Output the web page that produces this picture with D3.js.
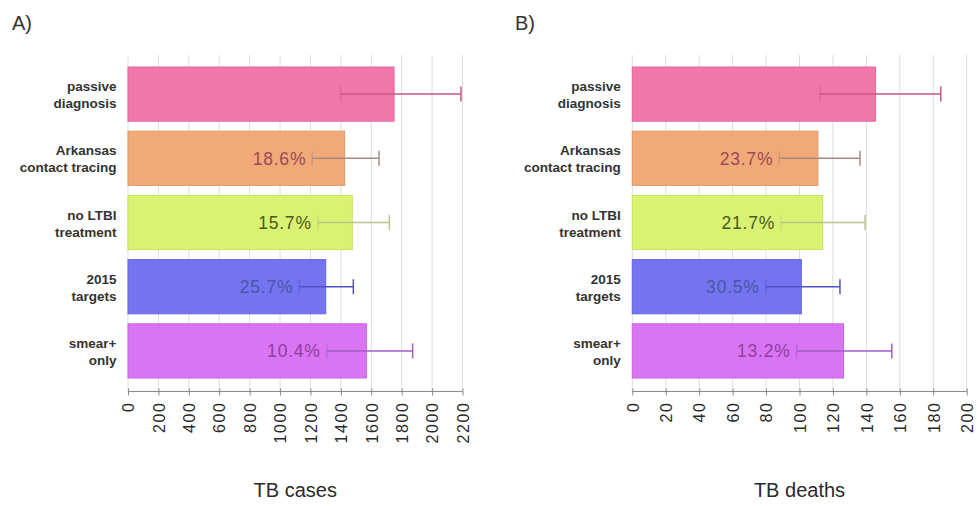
<!DOCTYPE html>
<html>
<head>
<meta charset="utf-8">
<script src="https://cdn.jsdelivr.net/npm/d3@7"></script>
<style>
  html, body { margin: 0; padding: 0; background: #fff; }
  svg { display: block; font-family: "Liberation Sans", Arial, Helvetica, sans-serif; }
</style>
</head>
<body>
<svg id="chart" width="977" height="506"></svg>
<script>
// Scenario names (two lines each)
const categories = ["passive\ndiagnosis", "Arkansas\ncontact tracing", "no LTBI\ntreatment", "2015\ntargets", "smear+\nonly"];

// Panel A: TB cases
const casesMean = [1750, 1424.5, 1475.3, 1300.3, 1568];
const casesLow  = [1398, 1212, 1248, 1127, 1307];
const casesHigh = [2190, 1651, 1719, 1482, 1872];
const casesLabels = ["", "18.6%", "15.7%", "25.7%", "10.4%"];
const casesTicks = [0, 200, 400, 600, 800, 1000, 1200, 1400, 1600, 1800, 2000, 2200];

// Panel B: TB deaths
const deathsMean = [145.5, 111.0, 113.9, 101.1, 126.3];
const deathsLow  = [112.3, 87.9, 89.0, 79.8, 98.3];
const deathsHigh = [184.5, 136.2, 139.2, 124.2, 155.2];
const deathsLabels = ["", "23.7%", "21.7%", "30.5%", "13.2%"];
const deathsTicks = [0, 20, 40, 60, 80, 100, 120, 140, 160, 180, 200];

// Per-scenario colours
const barColors   = ["#f277a9", "#f2a978", "#d9f271", "#7474f0", "#d974f2"];
const barEdges    = ["#e2679a", "#e09868", "#c8e062", "#6464e0", "#c864e2"];
const errColors   = ["#c75586", "#a98a80", "#b9c58e", "#5252c4", "#9f5cc4"];
const labelColors = ["#9a4a5a", "#9a4a5a", "#4a5a20", "#4b56a8", "#8f3f9f"];

const svg = d3.select("#chart");

const panels = [
  { tag: "A)", tagX: 12, title: "TB cases", x0: 128, x1: 462.5, max: 2200,
    mean: casesMean, low: casesLow, high: casesHigh, labels: casesLabels, ticks: casesTicks },
  { tag: "B)", tagX: 515, title: "TB deaths", x0: 632.3, x1: 966.7, max: 200,
    mean: deathsMean, low: deathsLow, high: deathsHigh, labels: deathsLabels, ticks: deathsTicks }
];

const gridTop = 55, axisY = 391.5;

const y = d3.scaleBand()
  .domain(categories)
  .range([62, 383])
  .paddingInner(0.156)
  .paddingOuter(0.078);

panels.forEach(p => {
  const x = d3.scaleLinear().domain([0, p.max]).range([p.x0, p.x1]);
  const g = svg.append("g");

  // panel tag
  g.append("text")
    .attr("x", p.tagX).attr("y", 30)
    .attr("font-size", 20).attr("fill", "#333")
    .text(p.tag);

  // vertical grid
  g.append("g").selectAll("line").data(p.ticks).join("line")
    .attr("x1", d => x(d)).attr("x2", d => x(d))
    .attr("y1", gridTop).attr("y2", axisY)
    .attr("stroke", "#dedede").attr("stroke-width", 1);

  const rows = categories.map((c, i) => ({
    c, i, mean: p.mean[i], low: p.low[i], high: p.high[i], label: p.labels[i]
  }));

  // bars
  g.append("g").selectAll("rect").data(rows).join("rect")
    .attr("x", x(0))
    .attr("y", d => y(d.c))
    .attr("width", d => x(d.mean) - x(0))
    .attr("height", y.bandwidth())
    .attr("fill", d => barColors[d.i])
    .attr("stroke", d => barEdges[d.i])
    .attr("stroke-width", 1);

  // error bars
  const eb = g.append("g").selectAll("g").data(rows).join("g")
    .attr("stroke", d => errColors[d.i])
    .attr("stroke-width", 1.5);
  eb.append("line")
    .attr("x1", d => x(d.low)).attr("x2", d => x(d.high))
    .attr("y1", d => y(d.c) + y.bandwidth() / 2)
    .attr("y2", d => y(d.c) + y.bandwidth() / 2);
  eb.append("line")
    .attr("x1", d => x(d.low)).attr("x2", d => x(d.low))
    .attr("y1", d => y(d.c) + y.bandwidth() / 2 - 7.5)
    .attr("y2", d => y(d.c) + y.bandwidth() / 2 + 7.5)
    .attr("stroke-opacity", 0.45);
  eb.append("line")
    .attr("x1", d => x(d.high)).attr("x2", d => x(d.high))
    .attr("y1", d => y(d.c) + y.bandwidth() / 2 - 7.5)
    .attr("y2", d => y(d.c) + y.bandwidth() / 2 + 7.5);

  // reduction labels
  g.append("g").selectAll("text").data(rows.filter(d => d.label)).join("text")
    .attr("x", d => x(d.low) - 6)
    .attr("y", d => y(d.c) + y.bandwidth() / 2)
    .attr("dy", "0.36em")
    .attr("text-anchor", "end")
    .attr("font-size", 17.5)
    .attr("letter-spacing", "0.8px")
    .attr("fill", d => labelColors[d.i])
    .text(d => d.label);

  // category labels
  const cl = g.append("g").selectAll("text").data(rows).join("text")
    .attr("x", x(0) - 11.5)
    .attr("y", d => y(d.c) + y.bandwidth() / 2 - 3)
    .attr("text-anchor", "end")
    .attr("font-size", 13.5)
    .attr("font-weight", "bold")
    .attr("fill", "#333");
  cl.each(function(d) {
    const lines = d.c.split("\n");
    d3.select(this).selectAll("tspan").data(lines).join("tspan")
      .attr("x", x(0) - 11.5)
      .attr("dy", (l, k) => k === 0 ? 0 : 17)
      .text(l => l);
  });

  // x axis
  const axis = g.append("g")
    .attr("transform", `translate(0,${axisY})`)
    .call(d3.axisBottom(x).tickValues(p.ticks).tickSize(4).tickFormat(d3.format("d")));
  axis.select(".domain").attr("stroke", "#8a8a8a").attr("d", `M${x(0)},0H${x(p.max)}`);
  axis.selectAll(".tick line").attr("stroke", "#8a8a8a").attr("y1", -3);
  axis.selectAll(".tick text")
    .attr("transform", "rotate(-90)")
    .attr("text-anchor", "end")
    .attr("x", -10).attr("y", 0).attr("dy", "0.36em")
    .attr("font-size", 16)
    .attr("letter-spacing", "1.6px")
    .attr("font-family", "'Liberation Sans', Arial, sans-serif")
    .attr("fill", "#2a2a2a");

  // axis title
  g.append("text")
    .attr("x", (p.x0 + p.x1) / 2).attr("y", 497)
    .attr("text-anchor", "middle")
    .attr("font-size", 20).attr("fill", "#2a2a2a")
    .text(p.title);
});
</script>
</body>
</html>
